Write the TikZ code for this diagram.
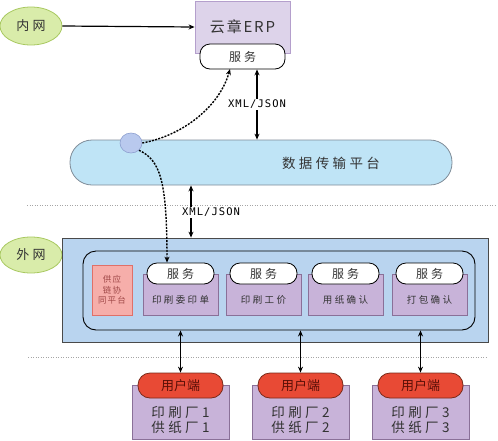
\documentclass[tikz,border=0pt]{standalone}
\usepackage{fontspec}
\newfontfamily\cjk{Noto Sans CJK SC}
\newfontfamily\cjksp[LetterSpace=25]{Noto Sans CJK SC}
\newfontfamily\cjkmid[LetterSpace=12]{Noto Sans CJK SC}
\newfontfamily\monosp[LetterSpace=10]{DejaVu Sans Mono}
\usetikzlibrary{arrows.meta,shapes.geometric}
\definecolor{gfill}{HTML}{D9ECAA}
\definecolor{gdraw}{HTML}{A8C860}
\definecolor{erpfill}{HTML}{DDD3EA}
\definecolor{erpdraw}{HTML}{B49FCC}
\definecolor{platfill}{HTML}{BFE4F6}
\definecolor{platdraw}{HTML}{7F8C98}
\definecolor{dotfill}{HTML}{B9C9EE}
\definecolor{dotdraw}{HTML}{8EA0D0}
\definecolor{outfill}{HTML}{B9D4EF}
\definecolor{outdraw}{HTML}{4A4A4A}
\definecolor{pinkfill}{HTML}{F6AEAA}
\definecolor{pinkdraw}{HTML}{E07068}
\definecolor{pinktext}{HTML}{A04848}
\definecolor{cardfill}{HTML}{C8B3D9}
\definecolor{carddraw}{HTML}{8A7098}
\definecolor{redfill}{HTML}{E84A35}
\definecolor{reddraw}{HTML}{7A2A1A}
\definecolor{redtext}{HTML}{5A1008}
\definecolor{txt}{HTML}{333333}
\tikzset{
  arr/.style={line width=1.2pt,-{Stealth[length=6pt,width=5pt]}},
  darr/.style={line width=1.2pt,{Stealth[length=6pt,width=5pt]}-{Stealth[length=6pt,width=5pt]}},
  dasharr/.style={line width=1.4pt,dash pattern=on 2pt off 1.3pt,-{Stealth[length=6pt,width=5pt]}},
  netell/.style={ellipse,draw=gdraw,fill=gfill,line width=0.8pt,inner sep=0pt,font=\cjksp\fontsize{13}{15}\selectfont,text=txt},
  pill/.style={draw=black,fill=white,rounded corners=10pt,line width=0.8pt,inner sep=0pt,font=\cjksp\fontsize{12}{14}\selectfont,text=txt},
  card/.style={draw=carddraw,fill=cardfill,line width=0.6pt,inner sep=0pt},
  cardtxt/.style={font=\cjksp\fontsize{9.5}{11}\selectfont,text=txt},
  redpill/.style={draw=reddraw,fill=redfill,rounded corners=12pt,line width=0.8pt,inner sep=0pt,minimum width=85pt,minimum height=25pt,font=\cjk\fontsize{13}{14}\selectfont,text=redtext},
  usertxt/.style={font=\cjksp\fontsize{13.5}{15}\selectfont,text=txt,align=center},
  dotline/.style={draw=gray!70,line width=0.9pt,dash pattern=on 1pt off 1.5pt},
  xmllab/.style={fill=white,inner sep=1pt,font=\monosp\fontsize{10.5}{12}\selectfont}
}
\begin{document}
\begin{tikzpicture}[x=1pt,y=-1pt]
\useasboundingbox (0,0) rectangle (498,440);
% intranet
\node[netell,minimum width=62pt,minimum height=38pt] (nei) at (31,26) {内网};
\node[draw=erpdraw,fill=erpfill,line width=0.8pt,minimum width=95pt,minimum height=52pt,inner sep=0pt] (erp) at (242.5,27) {};
\node[font=\cjkmid\fontsize{15}{17}\selectfont,text=txt] (erptxt) at (242.5,27) {云章ERP};
\node[pill,minimum width=85pt,minimum height=25pt] (erpsvc) at (242.5,56.5) {服务};
\draw[arr] (nei.east) -- (erp.west);
% platform
\node[draw=platdraw,fill=platfill,line width=0.8pt,rounded corners=22pt,minimum width=382pt,minimum height=45pt,inner sep=0pt] (plat) at (261,162.5) {};
\node[font=\cjksp\fontsize{13.5}{15}\selectfont,text=txt] (plattxt) at (331,163) {数据传输平台};
\node[ellipse,draw=dotdraw,fill=dotfill,line width=0.6pt,minimum width=22pt,minimum height=20pt,inner sep=0pt] (dot) at (131,143) {};
\coordinate (xa) at (257,0);
\draw[darr] (erpsvc.south -| xa) -- (plat.north -| xa) node[midway,xmllab] (xml1) {XML/JSON};
% dotted separators
\coordinate (d1a) at (27,205);
\coordinate (d1b) at (497,205);
\draw[dotline] (d1a) -- (d1b);
% extranet
\node[netell,minimum width=62pt,minimum height=36pt] (wai) at (31,255) {外网};
\node[draw=outdraw,fill=outfill,line width=0.8pt,minimum width=426pt,minimum height=104pt,inner sep=0pt] (outer) at (275,290) {};
\node[draw=black,fill=outfill,line width=0.9pt,rounded corners=13pt,minimum width=392pt,minimum height=79pt,inner sep=0pt] (inner) at (279,290.5) {};
\node[draw=pinkdraw,fill=pinkfill,line width=0.6pt,minimum width=40pt,minimum height=50pt,inner sep=0pt,align=center,font=\cjkmid\fontsize{8.5}{10.5}\selectfont,text=pinktext] (scp) at (112,290) {供应\\链协\\同平台};
\coordinate (xb) at (191,0);
\draw[darr] (plat.south -| xb) -- (outer.north -| xb) node[midway,xmllab,xshift=20pt,yshift=-1pt] (xml2) {XML/JSON};
% service cards
\foreach \i/\x/\t in {1/180.5/印刷委印单,2/263.5/印刷工价,3/345.5/用纸确认,4/429.5/打包确认}{
  \node[card,minimum width=75pt,minimum height=41pt] (card\i) at (\x,294.5) {};
  \node[pill,minimum width=67pt,minimum height=21pt] (svc\i) at (\x,273.5) {服务};
  \node[cardtxt] (ct\i) at (\x,300) {\t};
}
% dashed arrows
\coordinate (xc) at (167,0);
\coordinate (erpin) at (230,69);
\draw[dasharr] (dot.east) .. controls (185,135) and (220,105) .. (erpin);
\draw[dasharr] (dot.south east) .. controls (160,160) and (167,180) .. (svc1.north -| xc);
% users
\coordinate (d2a) at (28,357);
\coordinate (d2b) at (486,357);
\draw[dotline] (d2a) -- (d2b);
\foreach \i/\x in {1/180.5,2/300.5,3/420.5}{
  \node[card,minimum width=97pt,minimum height=54pt] (ucard\i) at (\x,412) {};
  \node[redpill] (user\i) at (\x,385.5) {用户端};
  \node[usertxt] (ut\i) at (\x,420.5) {印刷厂\i\\供纸厂\i};
  \draw[darr] (inner.south -| user\i.north) -- (user\i.north);
}
\end{tikzpicture}
\end{document}
